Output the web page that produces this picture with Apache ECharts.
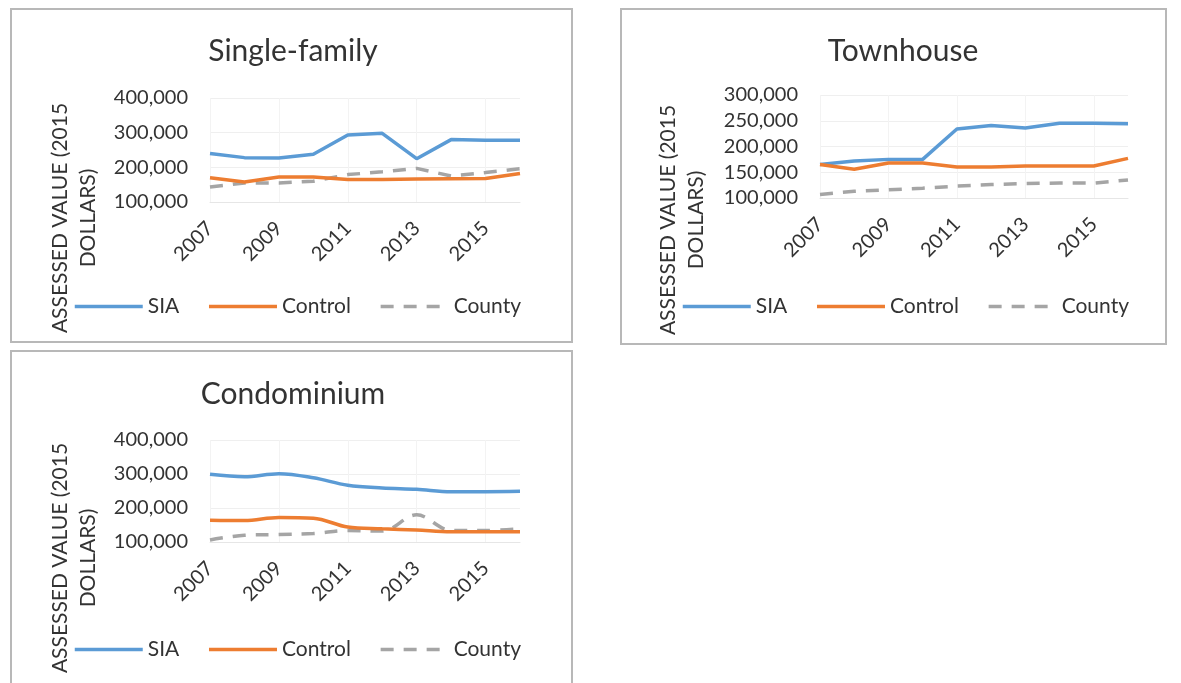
<!DOCTYPE html>
<html>
<head>
<meta charset="utf-8">
<script src="https://cdn.jsdelivr.net/npm/echarts@6/dist/echarts.min.js"></script>
<style>
  html, body { margin: 0; padding: 0; background: #fff; width: 1181px; height: 683px; overflow: hidden; }
  .panel { position: absolute; border: 2px solid #b8b8b8; box-sizing: border-box; background: #fff; }
  .panel > div { width: 100%; height: 100%; }
</style>
</head>
<body>
<div class="panel" style="left:10px;top:8px;width:563px;height:335px"><div id="c1"></div></div>
<div class="panel" style="left:620px;top:8px;width:547px;height:337px"><div id="c2"></div></div>
<div class="panel" style="left:10px;top:350px;width:563px;height:345px"><div id="c3"></div></div>
<script>
const years = ['2007', '2008', '2009', '2010', '2011', '2012', '2013', '2014', '2015', '2016'];
const seriesNames = ['SIA', 'Control', 'County'];

// single-family
const sfSIA = [240000, 228000, 227000, 238000, 293000, 298000, 225000, 280000, 278000, 278000];
const sfControl = [170000, 158000, 172000, 172000, 165000, 165000, 166000, 167000, 168000, 182000];
const sfCounty = [143000, 155000, 155000, 160000, 179000, 187000, 197000, 175000, 185000, 196000];

// townhouse
const thSIA = [165000, 172000, 175000, 175000, 234000, 241000, 236000, 245000, 245000, 244000];
const thControl = [165000, 156000, 168000, 168000, 160000, 160000, 162000, 162000, 162000, 177000];
const thCounty = [107000, 113000, 116000, 119000, 123000, 126000, 128000, 129000, 129000, 135000];

// condominium
const cdSIA = [299000, 292000, 301000, 289000, 267000, 259000, 255000, 248000, 248000, 249000];
const cdControl = [164000, 163000, 172000, 170000, 144000, 139000, 135000, 130000, 130000, 130000];
const cdCounty = [106000, 120000, 122000, 125000, 134000, 132000, 180000, 134000, 134000, 139000];

const FONT = 'Lato';
const TXT = '#333';

const makeChart = (id, cfg) => {
  const chart = echarts.init(document.getElementById(id));
  const line = (name, data, color, dashed) => ({
    name: name,
    type: 'line',
    data: data,
    symbol: 'none',
    smooth: cfg.smooth ? 0.35 : false,
    lineStyle: { color: color, width: 3.5, type: dashed ? [13, 10] : 'solid' },
    itemStyle: { color: color },
    z: dashed ? 1 : 2,
  });
  chart.setOption({
    animation: false,
    textStyle: { fontFamily: FONT, color: TXT },
    title: {
      text: cfg.title,
      left: cfg.titleX,
      top: cfg.titleTop,
      textAlign: 'center',
      textStyle: { fontFamily: FONT, fontSize: 30, fontWeight: 'normal', color: TXT },
    },
    legend: {
      data: seriesNames,
      left: cfg.legendLeft,
      top: cfg.legendTop,
      padding: 0,
      itemWidth: 68,
      itemHeight: 14,
      itemGap: 28,
      itemStyle: { opacity: 0 },
      lineStyle: { width: 3.5 },
      textStyle: { fontFamily: FONT, fontSize: 21, color: TXT },
    },
    grid: cfg.grid,
    xAxis: {
      type: 'category',
      data: years,
      boundaryGap: false,
      axisLine: { show: true, lineStyle: { color: '#e6e6e6' } },
      axisTick: { show: false },
      splitLine: { show: true, lineStyle: { color: '#f3f3f3' } },
      axisLabel: {
        interval: 1,
        rotate: 45,
        margin: 23,
        fontFamily: FONT,
        fontSize: 20,
        color: TXT,
      },
    },
    yAxis: {
      type: 'value',
      min: cfg.yMin,
      max: cfg.yMax,
      interval: cfg.yInt,
      axisLine: { show: false },
      axisTick: { show: false },
      splitLine: { lineStyle: { color: '#efefef' } },
      axisLabel: {
        margin: 22,
        fontFamily: FONT,
        fontSize: 20,
        color: TXT,
        formatter: (v) => v.toLocaleString('en-US'),
      },
    },
    graphic: [{
      type: 'text',
      x: cfg.nameX,
      y: cfg.nameY,
      rotation: Math.PI / 2,
      style: {
        text: 'ASSESSED VALUE (2015\nDOLLARS)',
        fontFamily: FONT,
        fontSize: 21,
        fill: TXT,
        lineHeight: 28,
        align: 'center',
        verticalAlign: 'middle',
      },
    }],
    series: [
      line('SIA', cfg.sia, '#5b9bd5', false),
      line('Control', cfg.control, '#ed7d31', false),
      line('County', cfg.county, '#a5a5a5', true),
    ],
  });
  return chart;
};

makeChart('c1', {
  title: 'Single-family', titleX: 276, titleTop: 21,
  grid: { left: 198, right: 51, top: 88, bottom: 139 },
  yMin: 100000, yMax: 400000, yInt: 100000,
  nameX: 62, nameY: 208,
  legendLeft: 61, legendTop: 286,
  sia: sfSIA, control: sfControl, county: sfCounty,
});

makeChart('c2', {
  title: 'Townhouse', titleX: 276, titleTop: 21,
  grid: { left: 198, right: 37, top: 85, bottom: 145 },
  yMin: 100000, yMax: 300000, yInt: 50000,
  nameX: 60, nameY: 210,
  legendLeft: 59, legendTop: 286,
  sia: thSIA, control: thControl, county: thCounty,
});

makeChart('c3', {
  title: 'Condominium', titleX: 276, titleTop: 22,
  grid: { left: 198, right: 51, top: 88, bottom: 151 },
  yMin: 100000, yMax: 400000, yInt: 100000,
  nameX: 62, nameY: 206,
  legendLeft: 61, legendTop: 287,
  smooth: true,
  sia: cdSIA, control: cdControl, county: cdCounty,
});
</script>
</body>
</html>
